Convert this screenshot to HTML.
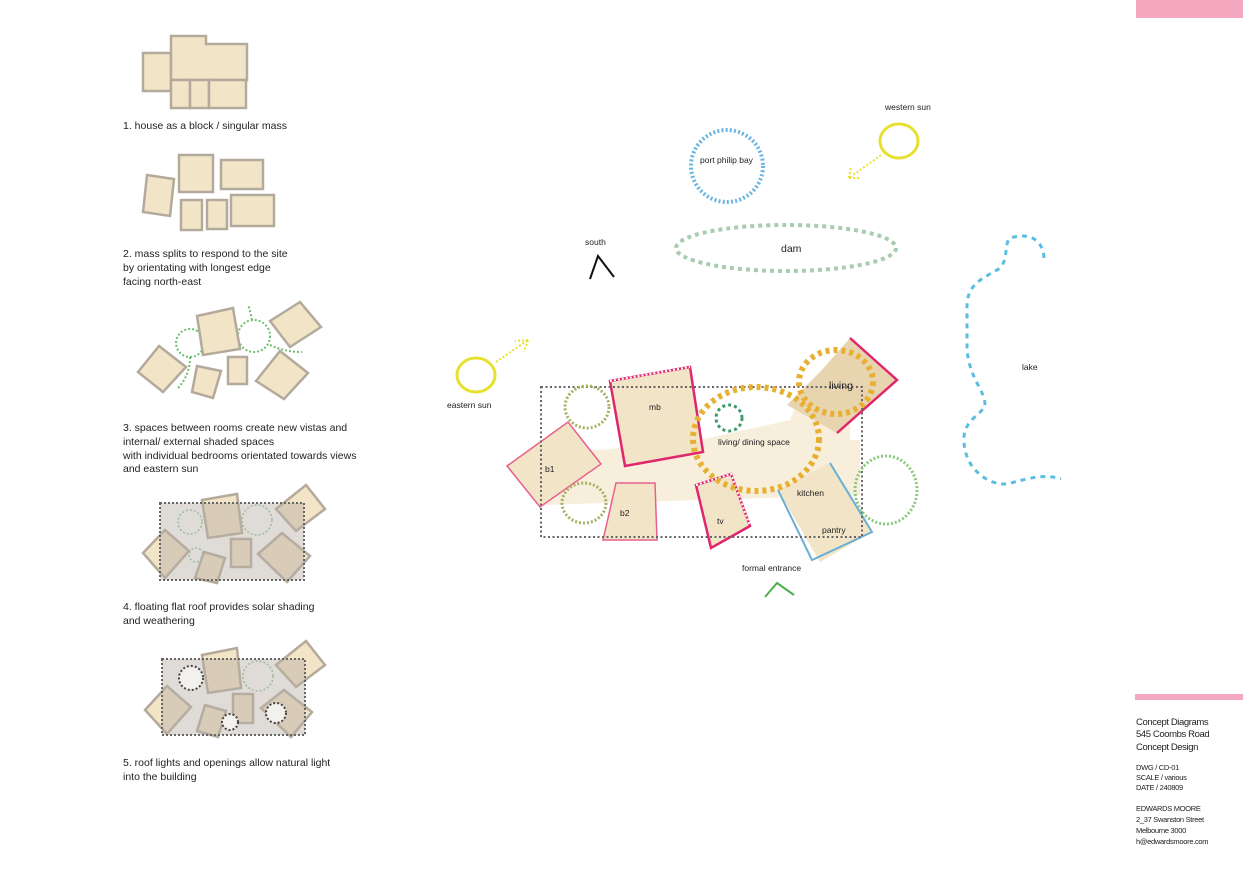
<!DOCTYPE html>
<html><head><meta charset="utf-8"><style>
html,body{margin:0;padding:0;background:#fff;}
svg{display:block;font-family:"Liberation Sans",sans-serif;}
.lbl{font-size:10.5px;fill:#222;}
.sm{font-size:8.5px;fill:#222;}
.tb{font-size:9.5px;fill:#222;letter-spacing:-0.4px;}
.tbs{font-size:7.5px;fill:#222;letter-spacing:-0.3px;}
.m{fill:#f2e4c6;stroke:#b4aa9c;stroke-width:2.5;}
</style></head><body>
<svg width="1243" height="879" viewBox="0 0 1243 879" xmlns="http://www.w3.org/2000/svg">
<rect x="1136" y="0" width="107" height="18" fill="#f3a8c0"/>
<rect x="1135" y="694" width="108" height="6" fill="#f3a8c0"/>
<g>
<text class="tb" x="1136" y="725">Concept Diagrams</text>
<text class="tb" x="1136" y="737">545 Coombs Road</text>
<text class="tb" x="1136" y="750">Concept Design</text>
<text class="tbs" x="1136" y="770">DWG / CD-01</text>
<text class="tbs" x="1136" y="780">SCALE / various</text>
<text class="tbs" x="1136" y="790">DATE / 240809</text>
<text class="tbs" x="1136" y="811">EDWARDS MOORE</text>
<text class="tbs" x="1136" y="822">2_37 Swanston Street</text>
<text class="tbs" x="1136" y="833">Melbourne 3000</text>
<text class="tbs" x="1136" y="844">h@edwardsmoore.com</text>
</g>

<!-- Diagram 1 -->
<rect class="m" x="143" y="53" width="28" height="38"/>
<polygon class="m" points="171,36 206,36 206,44 247,44 247,80 171,80"/>
<rect class="m" x="171" y="80" width="19" height="28"/>
<rect class="m" x="190" y="80" width="19" height="28"/>
<rect class="m" x="209" y="80" width="37" height="28"/>
<text class="lbl" x="123" y="129">1. house  as a block / singular mass</text>

<!-- Diagram 2 -->
<polygon class="m" points="147,175 174,179 170,216 143,212"/>
<rect class="m" x="179" y="155" width="34" height="37"/>
<rect class="m" x="221" y="160" width="42" height="29"/>
<rect class="m" x="181" y="200" width="21" height="30"/>
<rect class="m" x="207" y="200" width="20" height="29"/>
<rect class="m" x="231" y="195" width="43" height="31"/>
<text class="lbl" x="123" y="257">2. mass splits to respond to the site</text>
<text class="lbl" x="123" y="271">by orientating with longest edge</text>
<text class="lbl" x="123" y="285">facing north-east</text>

<!-- Diagram 3 -->
<g fill="none" stroke="#6cbf6c" stroke-width="2" stroke-dasharray="2,2">
<circle cx="190" cy="343" r="14"/>
<circle cx="254" cy="336" r="16"/>
<path d="M190,357 Q190,375 178,388"/>
<path d="M270,345 Q285,352 302,352"/>
<path d="M252,320 Q250,310 248,305"/>
</g>
<polygon class="m" points="138,372 159,346 186,367 163,392"/>
<polygon class="m" points="197,316 233,308 240,349 203,355"/>
<polygon class="m" points="270,321 300,302 321,327 290,347"/>
<polygon class="m" points="197,366 221,371 213,398 192,392"/>
<rect class="m" x="228" y="357" width="19" height="27"/>
<polygon class="m" points="256,381 280,351 308,373 284,399"/>
<text class="lbl" x="123" y="431">3. spaces between rooms create new vistas and</text>
<text class="lbl" x="123" y="445">internal/ external shaded spaces</text>
<text class="lbl" x="123" y="459">with individual bedrooms orientated towards views</text>
<text class="lbl" x="123" y="472">and eastern sun</text>

<!-- Diagram 4 -->
<g>
<polygon class="m" points="143,553 165,530 189,551 165,578"/>
<polygon class="m" points="202,500 237,494 242,533 208,538"/>
<polygon class="m" points="276,509 306,485 325,509 296,531"/>
<polygon class="m" points="204,552 225,558 217,583 195,578"/>
<rect class="m" x="231" y="539" width="20" height="28"/>
<polygon class="m" points="258,554 282,533 310,556 287,582"/>
<rect x="160" y="503" width="144" height="77" fill="#b8b0a6" fill-opacity="0.45" stroke="#666" stroke-width="2" stroke-dasharray="2,2"/>
<circle cx="190" cy="522" r="12" fill="none" stroke="#9cbc9c" stroke-width="1.5" stroke-dasharray="2,2"/>
<circle cx="257" cy="520" r="15" fill="none" stroke="#9cbc9c" stroke-width="1.5" stroke-dasharray="2,2"/>
<circle cx="196" cy="555" r="7" fill="none" stroke="#9cbc9c" stroke-width="1.5" stroke-dasharray="2,2"/>
</g>
<text class="lbl" x="123" y="610">4. floating flat roof provides solar shading</text>
<text class="lbl" x="123" y="624">and weathering</text>

<!-- Diagram 5 -->
<g>
<polygon class="m" points="145,710 167,686 191,707 167,734"/>
<polygon class="m" points="202,655 237,648 241,688 208,693"/>
<polygon class="m" points="276,665 306,641 325,665 296,687"/>
<polygon class="m" points="205,705 226,711 218,737 197,731"/>
<rect class="m" x="233" y="694" width="20" height="29"/>
<polygon class="m" points="261,708 284,690 312,712 291,737"/>
<rect x="162" y="659" width="143" height="76" fill="#b8b0a6" fill-opacity="0.45" stroke="#666" stroke-width="2" stroke-dasharray="2,2"/>
<circle cx="191" cy="678" r="12" fill="#f3f1ee" stroke="#444" stroke-width="2" stroke-dasharray="2,2"/>
<circle cx="276" cy="713" r="10" fill="#f3f1ee" stroke="#444" stroke-width="2" stroke-dasharray="2,2"/>
<circle cx="230" cy="722" r="8" fill="#f3f1ee" stroke="#444" stroke-width="2" stroke-dasharray="2,2"/>
<circle cx="258" cy="676" r="15" fill="none" stroke="#9cbc9c" stroke-width="1.5" stroke-dasharray="2,2"/>
</g>
<text class="lbl" x="123" y="766">5. roof lights and openings  allow natural light</text>
<text class="lbl" x="123" y="780">into the building</text>

<!-- Site elements -->
<text class="sm" x="885" y="110">western sun</text>
<ellipse cx="899" cy="141" rx="19" ry="17" fill="none" stroke="#e8e030" stroke-width="3"/>
<g stroke="#e8e030" stroke-width="2" stroke-dasharray="2,2" fill="none">
<path d="M881,155 L849,178"/><path d="M849,178 L851,166"/><path d="M849,178 L861,178"/>
</g>
<circle cx="727" cy="166" r="36" fill="none" stroke="#6ab4e0" stroke-width="4" stroke-dasharray="2,2.2"/>
<text class="sm" x="700" y="163">port philip bay</text>
<ellipse cx="786" cy="248" rx="110" ry="23" fill="none" stroke="#a8ccb0" stroke-width="4" stroke-dasharray="4,4"/>
<text class="lbl" x="781" y="252">dam</text>
<text class="sm" x="585" y="245">south</text>
<polyline points="590,279 598,256 614,277" fill="none" stroke="#111" stroke-width="2"/>
<path d="M1044,258 C1043,240 1030,232 1010,238 C1003,245 1010,262 997,270 C980,280 966,285 967,310 L967,350 C970,380 985,390 985,405 C982,415 963,420 964,440 C964,470 990,485 1005,484 C1020,482 1040,472 1061,479" fill="none" stroke="#5bbde0" stroke-width="3" stroke-dasharray="5,5"/>
<text class="sm" x="1022" y="370">lake</text>
<ellipse cx="476" cy="375" rx="19" ry="17" fill="none" stroke="#e8e030" stroke-width="3"/>
<text class="sm" x="447" y="408">eastern sun</text>
<g stroke="#e8e030" stroke-width="2" stroke-dasharray="2,2" fill="none">
<path d="M496,362 L528,340"/><path d="M528,340 L515,341"/><path d="M528,340 L524,352"/>
</g>

<!-- Main plan -->
<polygon points="541,447 600,450 700,440 790,420 800,395 850,395 850,440 860,440 860,495 700,500 541,505" fill="#f7eedc"/>
<polygon points="610,381 690,367 703,452 625,466" fill="#f2e4c6" stroke="#e0266c" stroke-width="2.5"/>
<polyline points="610,381 690,367" fill="none" stroke="#fff" stroke-width="2" stroke-dasharray="2,2"/>
<polygon points="507,466 568,422 601,464 540,507" fill="#f2e4c6" stroke="#e8608c" stroke-width="1.5"/>
<polygon points="616,483 655,483 657,540 603,540" fill="#f2e4c6" stroke="#e8608c" stroke-width="1.5"/>
<polygon points="696,485 731,474 750,526 711,548" fill="#f2e4c6" stroke="#e0266c" stroke-width="2.5"/>
<polyline points="696,485 731,474 750,526" fill="none" stroke="#fff" stroke-width="2" stroke-dasharray="2,2"/>
<polygon points="850,338 897,380 837,433 787,405 820,372" fill="#e8d4ae"/>
<polyline points="850,338 897,380 837,433" fill="none" stroke="#e0266c" stroke-width="2.5"/>
<polygon points="778,490 830,463 872,532 820,562" fill="#f2e4c6"/>
<polyline points="778,490 812,560 872,532 830,463" fill="none" stroke="#6aaed6" stroke-width="2"/>
<rect x="541" y="387" width="321" height="150" fill="none" stroke="#666" stroke-width="2" stroke-dasharray="2,2.5"/>
<ellipse cx="587" cy="407" rx="22" ry="21" fill="none" stroke="#a8b060" stroke-width="3" stroke-dasharray="2,2"/>
<ellipse cx="584" cy="503" rx="22" ry="20" fill="none" stroke="#a8b060" stroke-width="3" stroke-dasharray="2,2"/>
<ellipse cx="886" cy="490" rx="31" ry="34" fill="none" stroke="#8cc87c" stroke-width="3" stroke-dasharray="2,2"/>
<ellipse cx="756" cy="439" rx="63" ry="52" fill="none" stroke="#e8b030" stroke-width="6" stroke-dasharray="4,4"/>
<ellipse cx="836" cy="382" rx="37" ry="32" fill="none" stroke="#e8b030" stroke-width="6" stroke-dasharray="4,4"/>
<circle cx="729" cy="418" r="13" fill="none" stroke="#3a9a6a" stroke-width="3" stroke-dasharray="3,3"/>
<text class="sm" x="649" y="410">mb</text>
<text class="sm" x="545" y="472">b1</text>
<text class="sm" x="620" y="516">b2</text>
<text class="sm" x="717" y="524">tv</text>
<text class="sm" x="718" y="445">living/ dining space</text>
<text class="lbl" x="829" y="389">living</text>
<text class="sm" x="797" y="496">kitchen</text>
<text class="sm" x="822" y="533">pantry</text>
<text class="sm" x="742" y="571">formal entrance</text>
<polyline points="765,597 777,583 794,595" fill="none" stroke="#4cb050" stroke-width="2"/>
</svg>
</body></html>
